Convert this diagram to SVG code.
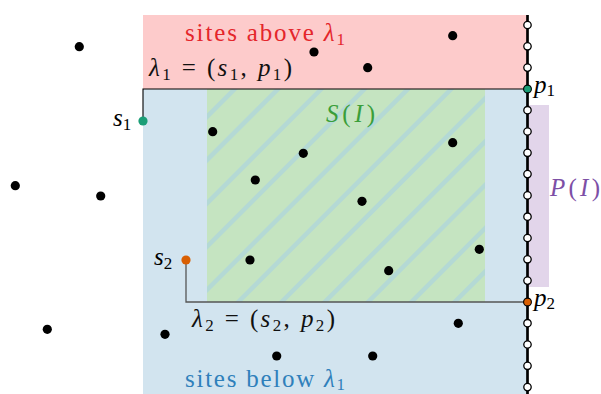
<svg xmlns="http://www.w3.org/2000/svg" width="601" height="394" viewBox="0 0 601 394">
<style>
text{font-family:"Liberation Serif","DejaVu Serif",serif;font-size:25px}
.i{font-style:italic}
.site{fill:#000}
.sp{fill:#fff;stroke:#000;stroke-width:1.3}
.sub{font-size:17px}
</style>
<defs>
<clipPath id="gc"><rect x="207" y="89" width="278" height="213"/></clipPath>
</defs>
<g id="regions">
<rect id="above" x="143" y="15" width="384" height="74" fill="#fdcbcb"/>
<rect id="below" x="143" y="89" width="384" height="305" fill="#d2e4ef"/>
<g id="SI">
<rect x="207" y="89" width="278" height="213" fill="#c5e4c1"/>
<path clip-path="url(#gc)" stroke="#b4d9d5" stroke-width="4.5" fill="none" d="M11.7 312L244.7 79M55 312L288 79M98.3 312L331.3 79M141.6 312L374.6 79M184.9 312L417.9 79M228.2 312L461.2 79M271.5 312L504.5 79M314.8 312L547.8 79M358.1 312L591.1 79M401.4 312L634.4 79M444.7 312L677.7 79M488 312L721 79"/>
</g>
<rect id="PI" x="527" y="105" width="22" height="182" fill="#e2d5ea"/>
</g>
<g id="connectors" fill="none">
<path d="M143 121V89H527" stroke="#000" stroke-width="1.1"/>
<path d="M186 260V302H527" stroke="#555" stroke-width="1.3"/>
<path d="M527.5 15V394" stroke="#000" stroke-width="2.7"/>
</g>
<g id="sites">
<circle class="site" cx="79.3" cy="46.7" r="4.6"/>
<circle class="site" cx="314" cy="52" r="4.6"/>
<circle class="site" cx="452.7" cy="35.7" r="4.6"/>
<circle class="site" cx="367.7" cy="67.7" r="4.6"/>
<circle class="site" cx="15.3" cy="185.7" r="4.6"/>
<circle class="site" cx="100.7" cy="196" r="4.6"/>
<circle class="site" cx="212.7" cy="131.7" r="4.6"/>
<circle class="site" cx="303.3" cy="153.3" r="4.6"/>
<circle class="site" cx="255.3" cy="180" r="4.6"/>
<circle class="site" cx="452.7" cy="142.7" r="4.6"/>
<circle class="site" cx="362" cy="201.3" r="4.6"/>
<circle class="site" cx="479.3" cy="249.3" r="4.6"/>
<circle class="site" cx="250" cy="260" r="4.6"/>
<circle class="site" cx="388.7" cy="270.7" r="4.6"/>
<circle class="site" cx="47.3" cy="329.3" r="4.6"/>
<circle class="site" cx="165" cy="334.3" r="4.6"/>
<circle class="site" cx="458.3" cy="323.3" r="4.6"/>
<circle class="site" cx="276.7" cy="356" r="4.6"/>
<circle class="site" cx="372.7" cy="356" r="4.6"/>
</g>
<g id="s1"><circle cx="143" cy="121" r="4.6" fill="#1b9e77"/>
<text x="113" y="126"><tspan class="i">s</tspan><tspan class="sub" dy="4">1</tspan></text></g>
<g id="s2"><circle cx="186" cy="260" r="4.6" fill="#d95f02"/>
<text x="154" y="265"><tspan class="i">s</tspan><tspan class="sub" dy="4">2</tspan></text></g>
<g id="points">
<circle class="sp" cx="527.5" cy="25" r="3.7"/>
<circle class="sp" cx="527.5" cy="46.3" r="3.7"/>
<circle class="sp" cx="527.5" cy="67.6" r="3.7"/>
<circle class="sp" cx="527.5" cy="110.2" r="3.7"/>
<circle class="sp" cx="527.5" cy="131.5" r="3.7"/>
<circle class="sp" cx="527.5" cy="152.8" r="3.7"/>
<circle class="sp" cx="527.5" cy="174.1" r="3.7"/>
<circle class="sp" cx="527.5" cy="195.4" r="3.7"/>
<circle class="sp" cx="527.5" cy="216.7" r="3.7"/>
<circle class="sp" cx="527.5" cy="238" r="3.7"/>
<circle class="sp" cx="527.5" cy="259.3" r="3.7"/>
<circle class="sp" cx="527.5" cy="280.6" r="3.7"/>
<circle class="sp" cx="527.5" cy="323.2" r="3.7"/>
<circle class="sp" cx="527.5" cy="344.5" r="3.7"/>
<circle class="sp" cx="527.5" cy="365.8" r="3.7"/>
<circle class="sp" cx="527.5" cy="387.1" r="3.7"/>
</g>
<g id="p1"><circle cx="527.5" cy="89" r="3.9" fill="#1b9e77" stroke="#000" stroke-width="1.1"/>
<text x="534" y="93"><tspan class="i">p</tspan><tspan class="sub" dy="3">1</tspan></text></g>
<g id="p2"><circle cx="527.5" cy="302" r="3.9" fill="#d95f02" stroke="#000" stroke-width="1.1"/>
<text x="534" y="306"><tspan class="i">p</tspan><tspan class="sub" dy="3">2</tspan></text></g>
<g id="labels">
<text x="185" y="41" fill="#e4262b" textLength="160" lengthAdjust="spacing">sites above <tspan class="i">λ</tspan><tspan class="sub" dy="4">1</tspan></text>
<text x="185" y="387" fill="#2f80bb" textLength="160" lengthAdjust="spacing">sites below <tspan class="i">λ</tspan><tspan class="sub" dy="3">1</tspan></text>
<text x="149" y="76" fill="#111" textLength="143" lengthAdjust="spacing"><tspan class="i">λ</tspan><tspan class="sub" dy="4">1</tspan><tspan dy="-4"> = (</tspan><tspan class="i">s</tspan><tspan class="sub" dy="4">1</tspan><tspan dy="-4">, </tspan><tspan class="i">p</tspan><tspan class="sub" dy="4">1</tspan><tspan dy="-4">)</tspan></text>
<text x="192" y="327" fill="#111" textLength="143" lengthAdjust="spacing"><tspan class="i">λ</tspan><tspan class="sub" dy="4">2</tspan><tspan dy="-4"> = (</tspan><tspan class="i">s</tspan><tspan class="sub" dy="4">2</tspan><tspan dy="-4">, </tspan><tspan class="i">p</tspan><tspan class="sub" dy="4">2</tspan><tspan dy="-4">)</tspan></text>
<text x="326" y="122" fill="#3a9e3a" textLength="49" lengthAdjust="spacing"><tspan class="i">S</tspan>(<tspan class="i">I</tspan>)</text>
<text x="550" y="196" fill="#7d4fa6" textLength="50" lengthAdjust="spacing"><tspan class="i">P</tspan>(<tspan class="i">I</tspan>)</text>
</g>
</svg>
